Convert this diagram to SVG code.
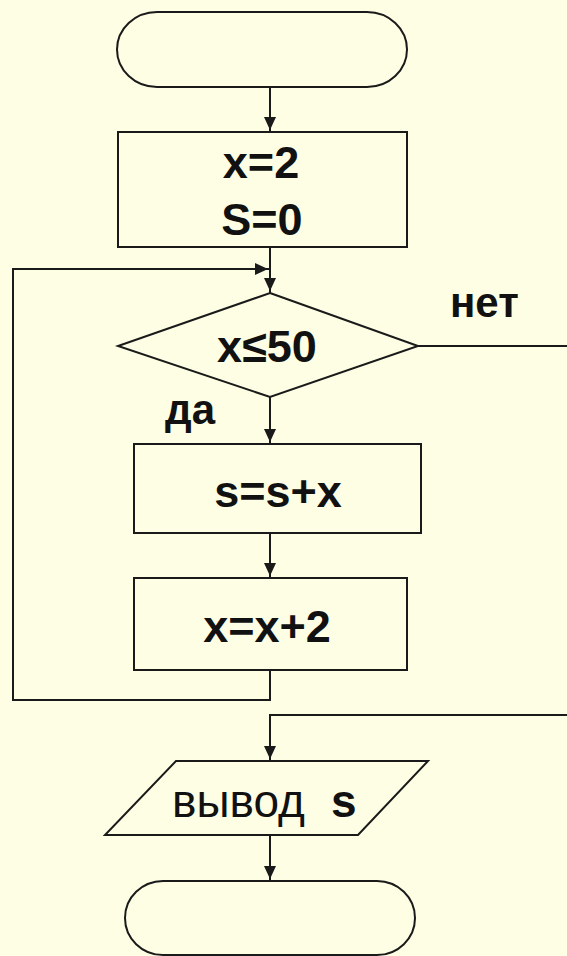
<svg xmlns="http://www.w3.org/2000/svg" width="567" height="956" viewBox="0 0 567 956">
<style>
.shape{fill:#FEFEE4;stroke:#1a1a1a;stroke-width:2}
.conn{fill:none;stroke:#1a1a1a;stroke-width:2}
.t{font-family:"Liberation Sans",Arial,sans-serif;font-weight:bold;font-size:45px;fill:#111;text-anchor:middle}
.lbl{font-family:"Liberation Sans",Arial,sans-serif;font-weight:bold;font-size:42px;fill:#111}
</style>
<defs>
<marker id="arr" markerUnits="userSpaceOnUse" markerWidth="20" markerHeight="14" refX="15" refY="6" orient="auto">
<path d="M0,0 L13,6 L0,12 z" fill="#1a1a1a"/>
</marker>
</defs>
<rect x="0" y="0" width="567" height="956" fill="#FEFEE4"/>
<g id="connectors">
<path class="conn" d="M270 87 L270 132" marker-end="url(#arr)"/>
<path class="conn" d="M270 247 L270 293" marker-end="url(#arr)"/>
<path class="conn" d="M270 670 L270 700 L13 700 L13 269 L270 269" marker-end="url(#arr)"/>
<path class="conn" d="M270 397 L270 444" marker-end="url(#arr)"/>
<path class="conn" d="M270 533 L270 578" marker-end="url(#arr)"/>
<path class="conn" d="M418 346 L572 346 L572 715 L270 715 L270 761" marker-end="url(#arr)"/>
<path class="conn" d="M270 835 L270 881" marker-end="url(#arr)"/>
</g>
<g id="start">
<rect class="shape" x="117" y="12" width="290" height="75" rx="40" ry="37.5"/>
</g>
<g id="init">
<rect class="shape" x="118" y="132" width="289" height="115"/>
<text class="t" x="261" y="178">x=2</text>
<text class="t" x="262" y="235">S=0</text>
</g>
<g id="cond">
<polygon class="shape" points="270,293 418,346 270,397 118,346"/>
<text class="t" x="267" y="362">x≤50</text>
<text class="lbl" x="450" y="317">нет</text>
<text class="lbl" x="165" y="424">да</text>
</g>
<g id="sum">
<rect class="shape" x="134" y="444" width="287" height="89"/>
<text class="t" x="278" y="507">s=s+x</text>
</g>
<g id="inc">
<rect class="shape" x="134" y="578" width="273" height="92"/>
<text class="t" x="267" y="642">x=x+2</text>
</g>
<g id="output">
<polygon class="shape" points="176,761 428,761 358,835 105,835"/>
<text x="172" y="817" style="font-family:'Liberation Sans',Arial,sans-serif;font-size:46px;fill:#111">вывод <tspan x="331" font-weight="bold">s</tspan></text>
</g>
<g id="end">
<rect class="shape" x="125" y="881" width="290" height="74" rx="38" ry="37"/>
</g>
</svg>
